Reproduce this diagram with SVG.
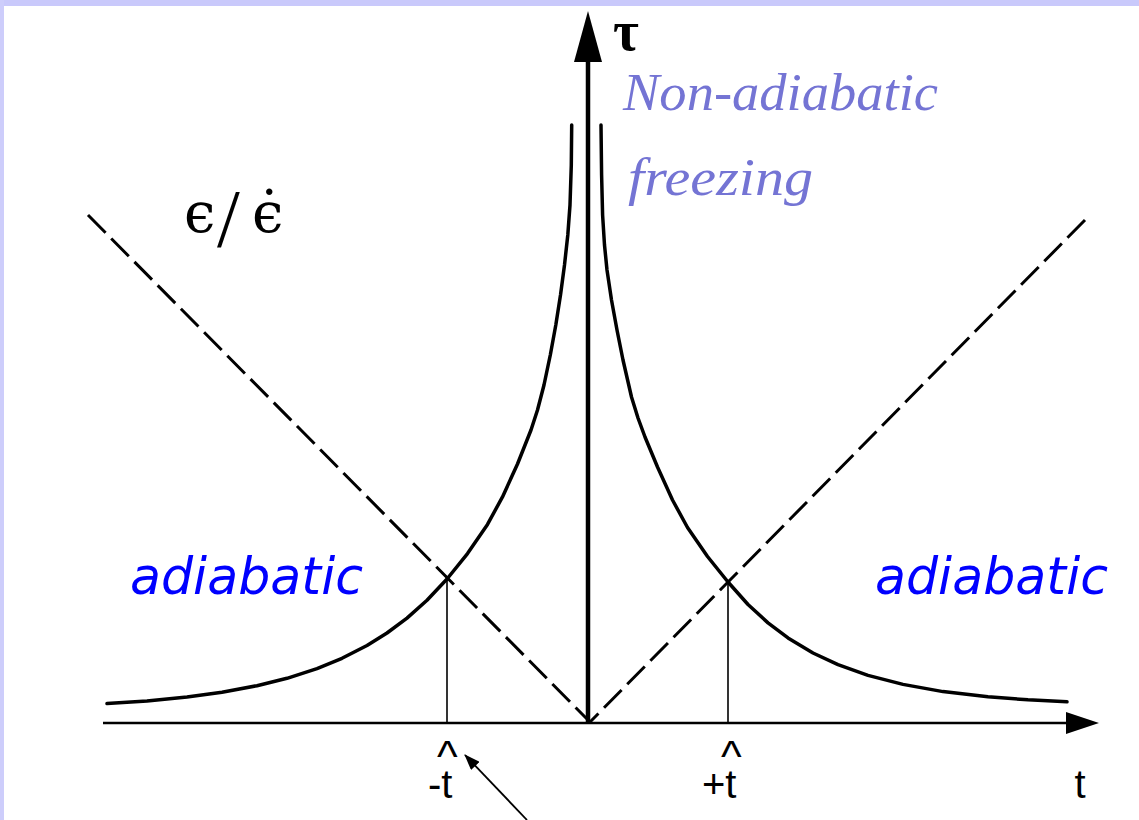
<svg xmlns="http://www.w3.org/2000/svg" width="1139" height="820" viewBox="0 0 1139 820">
<style>
.curve{fill:none;stroke:#000;stroke-width:3.5;stroke-linecap:round;stroke-linejoin:round}
.dash{fill:none;stroke:#000;stroke-width:3;stroke-dasharray:25 8}
.tick{stroke:#000;stroke-width:1.6}
.axis{stroke:#000}
.lbl{font-family:"Liberation Sans",Arial,sans-serif;font-size:40px;fill:#000}
.caret{font-size:44px}
.purple{font-family:"Liberation Serif","Times New Roman",serif;font-style:italic;font-size:52px;fill:#7474d4}
.blue{font-family:"DejaVu Sans",sans-serif;font-style:oblique;font-size:52px;fill:#0000ff}
.math{font-family:"DejaVu Serif",serif;fill:#000}
</style>
<defs>
<marker id="ptr" viewBox="0 0 16 12" refX="15" refY="6" markerWidth="16" markerHeight="12" markerUnits="userSpaceOnUse" orient="auto">
<path d="M0,0 L16,6 L0,12 Z" fill="#000"/>
</marker>
</defs>
<rect x="0" y="0" width="1139" height="820" fill="#fff"/>
<rect x="0" y="0" width="1139" height="6" fill="#c9c9fb"/>
<rect x="0" y="0" width="4" height="820" fill="#cdcdfb"/>

<g id="connectors">
<line class="axis" x1="103" y1="723" x2="1070" y2="723" stroke-width="2.5"/>
<polygon points="1066,712 1099,723 1066,734" fill="#000"/>
<line class="axis" x1="588" y1="723" x2="588" y2="58" stroke-width="4.5"/>
<polygon points="574,62 588,11 602,62" fill="#000"/>
<line class="dash" x1="88" y1="215" x2="590" y2="722"/>
<line class="dash" x1="1085" y1="220" x2="590" y2="722"/>
<path id="leftCurve" class="curve" d="M107,703.6 L147,700.9 187,697 222,692.2 257,685.7 287,678.3 317,668.6 342,658.3 367,645.5 387,633 407,618.1 427,600.2 447,579 467.5,553.6 487.5,524.4 502.5,496.9 517.5,464 531,430 537.5,410 544,385 550.3,355 555.8,325 560.5,295 564.5,265 567.8,235 570,205 571.3,165 571.7,125"/>
<path id="rightCurve" class="curve" d="M601,125 L601.6,175 602.6,215 604.5,245 607,270 611.5,300 617,330 623,360 631.5,397 638,418 645,437 657.5,467 672.5,500 687.5,527.5 707.5,556.5 728,582 748,604.5 768,622.9 788,637.9 813,653 838,664.7 868,675.4 903,684.4 943,691.6 988,696.8 1028,699.8 1067,701.8"/>
<line class="tick" x1="447" y1="579" x2="447" y2="723"/>
<line class="tick" x1="728" y1="582" x2="728" y2="723"/>
<line x1="527" y1="820" x2="465" y2="755" stroke="#000" stroke-width="1.8" marker-end="url(#ptr)"/>
</g>

<g id="label-tau"><text x="613" y="50" font-family="Liberation Serif,serif" font-weight="bold" font-size="56">τ</text></g>
<g id="label-eps">
<text class="math" x="184" y="232" font-size="56">ϵ</text>
<text x="217" y="246" font-family="Liberation Serif,serif" font-size="82">/</text>
<text class="math" x="252" y="232" font-size="56">ϵ̇</text>
</g>
<g id="label-nonadiabatic">
<text class="purple" x="623" y="110" textLength="315" lengthAdjust="spacingAndGlyphs">Non-adiabatic</text>
<text class="purple" x="628" y="195" textLength="185" lengthAdjust="spacingAndGlyphs">freezing</text>
</g>
<g id="label-adiabatic-left"><text class="blue" x="130" y="594" textLength="233" lengthAdjust="spacingAndGlyphs">adiabatic</text></g>
<g id="label-adiabatic-right"><text class="blue" x="875" y="594" textLength="233" lengthAdjust="spacingAndGlyphs">adiabatic</text></g>
<g id="label-minus-that">
<text class="lbl"><tspan class="caret" x="437" y="772">^</tspan><tspan x="428" y="798">-t</tspan></text>
</g>
<g id="label-plus-that">
<text class="lbl"><tspan class="caret" x="721" y="772">^</tspan><tspan x="702" y="798">+t</tspan></text>
</g>
<g id="label-t"><text class="lbl" x="1080" y="798" text-anchor="middle">t</text></g>
</svg>
